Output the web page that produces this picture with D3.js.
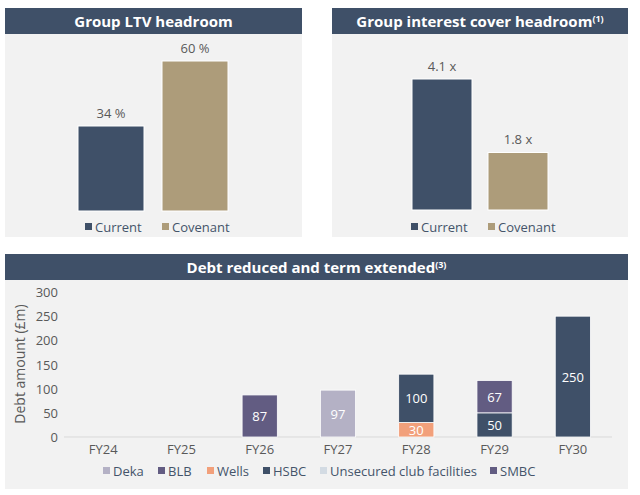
<!DOCTYPE html>
<html><head><meta charset="utf-8">
<script src="https://cdn.jsdelivr.net/npm/d3@7"></script>
<style>body{margin:0;background:#fff;}svg{display:block;font-family:"Open Sans",sans-serif;}</style>
</head><body>
<svg id="c" width="640" height="495"></svg>
<script>
// ---- data ----
const ltvCategories = ["Current", "Covenant"];
const ltvValues = [34, 60];
const ltvLabels = ["34 %", "60 %"];
const icrCategories = ["Current", "Covenant"];
const icrValues = [4.1, 1.8];
const icrLabels = ["4.1 x", "1.8 x"];
const years = ["FY24","FY25","FY26","FY27","FY28","FY29","FY30"];
const lenders = ["Deka","BLB","Wells","HSBC","Unsecured club facilities","SMBC"];
const deka      = [0,0,0,97,0,0,0];
const blb       = [0,0,87,0,0,0,0];
const wells     = [0,0,0,0,30,0,0];
const hsbc      = [0,0,0,0,100,50,250];
const unsecured = [0,0,0,0,0,0,0];
const smbc      = [0,0,0,0,0,67,0];
const yTicks = [0,50,100,150,200,250,300];

const NAVY="#3f5068", TAN="#ad9c7a", BG="#f2f2f2";
const lenderColors = ["#b4b1c5","#625c82","#f2a07b","#3f5068","#d3dbe3","#625c82"];
const svg = d3.select("#c");

function panel(x0,x1,y0,y1,hy1,title,sup){
  svg.append("rect").attr("x",x0).attr("y",y0).attr("width",x1-x0).attr("height",y1-y0).attr("fill",BG);
  svg.append("rect").attr("x",x0).attr("y",y0).attr("width",x1-x0).attr("height",hy1-y0).attr("fill",NAVY);
  const t = svg.append("text").attr("x",(x0+x1)/2).attr("y",(y0+hy1)/2+5.5).attr("text-anchor","middle")
    .attr("fill","#fff").attr("font-weight","bold").attr("font-size",15).text(title);
  if(sup) t.append("tspan").attr("font-size",9).attr("dy",-5).text(sup);
}

function smallChart(cfg){
  panel(cfg.x0,cfg.x1,8,237,34,cfg.title,cfg.sup);
  const x = d3.scaleOrdinal().domain(cfg.cats).range(cfg.barX);
  const y = d3.scaleLinear().domain([0,cfg.max]).range([cfg.base,cfg.base-cfg.maxH]);
  const g = svg.append("g");
  g.selectAll("rect.b").data(cfg.vals).enter().append("rect")
    .attr("x",(d,i)=>x(cfg.cats[i])).attr("width",cfg.bw)
    .attr("y",d=>y(d)).attr("height",d=>y(0)-y(d))
    .attr("fill",(d,i)=>[NAVY,TAN][i]).attr("stroke","#fff").attr("stroke-width",1);
  g.selectAll("text.l").data(cfg.vals).enter().append("text")
    .attr("x",(d,i)=>x(cfg.cats[i])+cfg.bw/2).attr("y",d=>y(d)-8)
    .attr("text-anchor","middle").attr("font-size",13).attr("fill","#595959")
    .text((d,i)=>cfg.labels[i]);
  cfg.cats.forEach((c,i)=>{
    svg.append("rect").attr("x",cfg.legX[i]).attr("y",223).attr("width",7).attr("height",7).attr("fill",[NAVY,TAN][i]);
    svg.append("text").attr("x",cfg.legX[i]+10).attr("y",231.5).attr("font-size",13).attr("fill","#44546a").text(c);
  });
}

smallChart({x0:5,x1:302,title:"Group LTV headroom",cats:ltvCategories,vals:ltvValues,labels:ltvLabels,
  barX:[78,162],bw:66,base:211,max:60,maxH:150,legX:[85,162]});
smallChart({x0:332,x1:628,title:"Group interest cover headroom",sup:"(1)",cats:icrCategories,vals:icrValues,labels:icrLabels,
  barX:[412,488],bw:60,base:210,max:4.1,maxH:131,legX:[411,488]});

// ---- debt chart ----
panel(5,628,254,489,280,"Debt reduced and term extended","(3)");
const series = [deka,blb,wells,hsbc,unsecured,smbc];
const rows = years.map((yr,i)=>{const o={year:yr}; lenders.forEach((l,j)=>o[l]=series[j][i]); return o;});
const stack = d3.stack().keys(lenders)(rows);
const xb = d3.scaleBand().domain(years).range([64,612]).paddingInner(0.55).paddingOuter(0.275);
const yb = d3.scaleLinear().domain([0,300]).range([437,292]);

svg.append("g").attr("transform","translate(58,0)")
  .call(d3.axisLeft(yb).tickValues(yTicks).tickSize(0).tickPadding(0))
  .call(g=>g.select(".domain").remove())
  .call(g=>g.selectAll("text").attr("font-size",13).attr("fill","#595959").attr("font-family","Open Sans").attr("dy","0.35em"));
svg.append("line").attr("x1",64).attr("x2",612).attr("y1",437).attr("y2",437).attr("stroke","#d9d9d9");
svg.append("g").attr("transform","translate(0,437)")
  .call(d3.axisBottom(xb).tickSize(0).tickPadding(8))
  .call(g=>g.select(".domain").remove())
  .call(g=>g.selectAll("text").attr("font-size",13).attr("fill","#595959").attr("font-family","Open Sans"));
svg.append("text").attr("transform","translate(25,364) rotate(-90)").attr("text-anchor","middle")
  .attr("font-size",14).attr("fill","#595959").text("Debt amount (£m)");

stack.forEach((s,si)=>{
  svg.append("g").selectAll("rect").data(s.filter(d=>d[1]-d[0]>0)).enter().append("rect")
    .attr("x",d=>xb(d.data.year)).attr("width",xb.bandwidth())
    .attr("y",d=>yb(d[1])).attr("height",d=>yb(d[0])-yb(d[1]))
    .attr("fill",lenderColors[si]).attr("stroke","#fff").attr("stroke-width",0.8);
  svg.append("g").selectAll("text").data(s.filter(d=>d[1]-d[0]>0)).enter().append("text")
    .attr("x",d=>xb(d.data.year)+xb.bandwidth()/2).attr("y",d=>(yb(d[0])+yb(d[1]))/2+5)
    .attr("text-anchor","middle").attr("font-size",13).attr("fill","#fff")
    .text(d=>d[1]-d[0]);
});

const legX = [103,158,207,263,320,490];
lenders.forEach((l,i)=>{
  svg.append("rect").attr("x",legX[i]).attr("y",467).attr("width",7).attr("height",7).attr("fill",lenderColors[i]);
  svg.append("text").attr("x",legX[i]+10).attr("y",475.5).attr("font-size",13).attr("fill","#44546a").text(l);
});
</script>
</body></html>
